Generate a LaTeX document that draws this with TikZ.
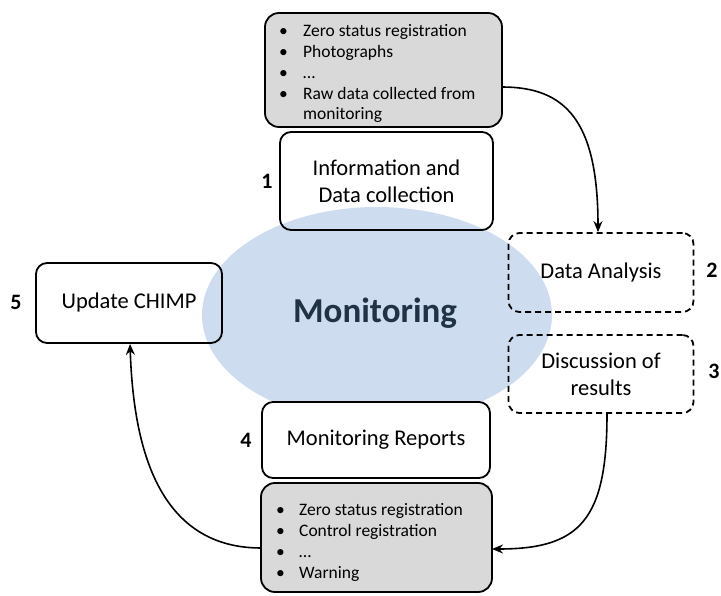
\documentclass[tikz,border=0pt]{standalone}
\usepackage{fontspec}
\setmainfont{Carlito}
\usetikzlibrary{arrows.meta,shapes.geometric}
\definecolor{ellblue}{HTML}{CDDCEE}
\definecolor{boxgray}{HTML}{D9D9D9}
\definecolor{montext}{HTML}{203246}
\begin{document}
\begin{tikzpicture}[x=1pt,y=-1pt,
  box/.style={draw=black,line width=1.8pt,rounded corners=11pt,font=\fontsize{22.5}{27}\selectfont,align=center},
  dbox/.style={box,dash pattern=on 6pt off 4pt},
  gbox/.style={draw=black,line width=1.8pt,rounded corners=14pt,fill=boxgray},
  num/.style={font=\fontsize{22}{24}\selectfont\bfseries},
  conn/.style={line width=1.6pt,-{Stealth[length=11pt,width=9pt]}},
  blist/.style={anchor=north west,inner sep=0pt,align=left,font=\fontsize{17.5}{20.8}\selectfont}
]
\useasboundingbox (0,0) rectangle (721,596);
% ellipse
\node[ellipse,fill=ellblue,minimum width=350pt,minimum height=216pt,inner sep=0pt] (ell) at (377,315) {};
\node[font=\fontsize{35}{38}\selectfont\bfseries,text=montext] (mon) at (375,313) {Monitoring};
% top gray box
\draw[gbox] (265,13) rectangle (502,127);
\coordinate (topbox) at (502,87);
\node[blist] (tlist) at (279,22) {%
\begin{tabular}{@{}p{12pt}@{\hspace{12pt}}l@{}}
\textbullet & Zero status registration\\
\textbullet & Photographs\\
\textbullet & \ldots\\
\textbullet & Raw data collected from\\
 & monitoring
\end{tabular}};
% box 1
\node[box,minimum width=213pt,minimum height=98pt] (b1) at (386.5,181) {Information and\\Data collection};
\node[num] (n1) at (267,181) {1};
% data analysis
\node[dbox,minimum width=185pt,minimum height=79pt] (b2) at (601,272.5) {Data Analysis};
\node[num] (n2) at (712,270) {2};
% discussion
\node[dbox,minimum width=185pt,minimum height=78pt] (b3) at (601,374) {Discussion of\\results};
\node[num] (n3) at (714,371) {3};
% update chimp
\node[box,minimum width=186pt,minimum height=80pt] (b5) at (129,303) {Update CHIMP};
\node[num] (n5) at (16,302) {5};
% monitoring reports
\node[box,fill=white,minimum width=228pt,minimum height=76pt] (b4) at (376,440) {Monitoring Reports};
\node[num] (n4) at (246,440) {4};
% bottom gray box
\draw[gbox] (261,483) rectangle (492,592);
\coordinate (botR) at (492,549);
\coordinate (botL) at (261,548);
\node[blist] (blst) at (276,501) {%
\begin{tabular}{@{}p{12pt}@{\hspace{11pt}}l@{}}
\textbullet & Zero status registration\\
\textbullet & Control registration\\
\textbullet & \ldots\\
\textbullet & Warning
\end{tabular}};
% connectors
\draw[conn] (topbox) .. controls (565,87) and (598,120) .. (b2.north -| 598,0);
\draw[conn] (b3.south -| 607,0) .. controls (607,520) and (580,549) .. (botR);
\draw[conn] (botL) .. controls (150,548) and (133,430) .. (b5.south -| 130,0);
\end{tikzpicture}
\end{document}
